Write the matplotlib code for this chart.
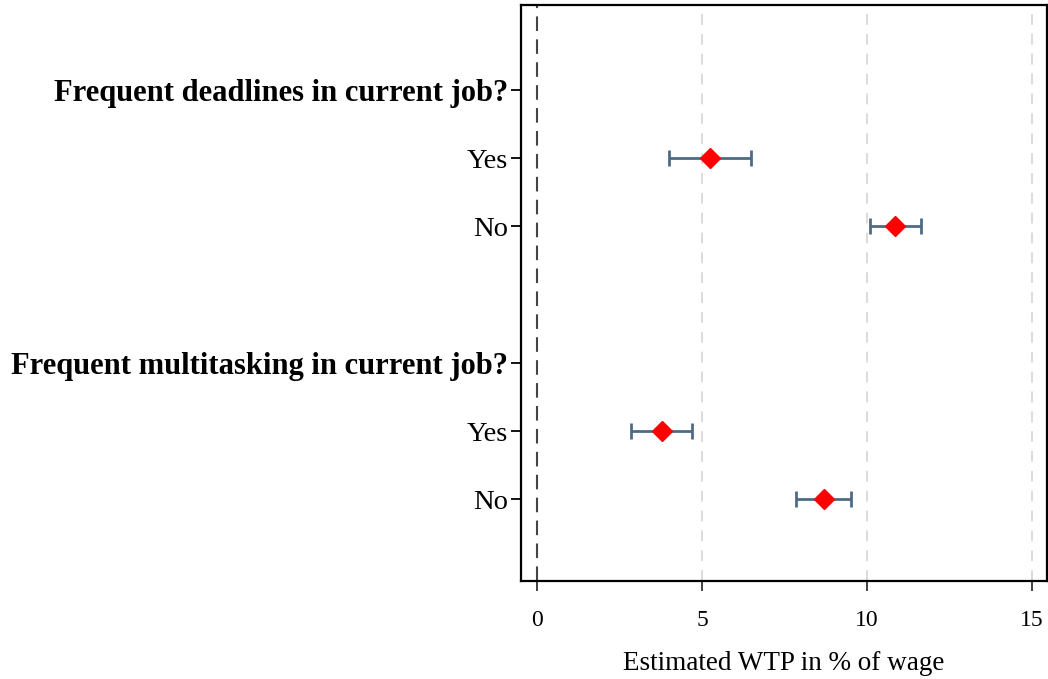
import matplotlib.pyplot as plt

# data
row_labels = ["Frequent deadlines in current job?", "Yes", "No", "",
              "Frequent multitasking in current job?", "Yes", "No"]
is_header = [True, False, False, False, True, False, False]
est_rows = [1, 2, 5, 6]
est = [5.25, 10.85, 3.8, 8.7]
ci_low = [4.0, 10.1, 2.85, 7.85]
ci_high = [6.5, 11.65, 4.7, 9.5]
xticks = [0, 5, 10, 15]

plt.rcParams['font.family'] = ['Liberation Serif', 'DejaVu Serif']

fig = plt.figure(figsize=(10.48, 6.79), dpi=100)
ax = fig.add_axes([0.497, 0.144, 0.502, 0.849])

# grid + zero line
for xv in xticks[1:]:
    ax.axvline(xv, color='#d9d9d9', lw=1.3, ls=(0, (6, 5)), zorder=0)
ax.axvline(0, color='#444444', lw=1.5, ls=(0, (7, 4)), zorder=1)

err_lo = [e - l for e, l in zip(est, ci_low)]
err_hi = [h - e for e, h in zip(est, ci_high)]
ax.errorbar(est, est_rows, xerr=[err_lo, err_hi], fmt='none',
            ecolor='#4d6b85', elinewidth=2, capsize=6, capthick=2, zorder=2)
ax.plot(est, est_rows, 'D', color='red', markersize=10, zorder=3)

ax.set_xlim(-0.485, 15.45)
ax.set_ylim(7.2, -1.25)

ytick_pos = [i for i, lab in enumerate(row_labels) if lab]
ax.set_yticks(ytick_pos)
ax.set_yticklabels([row_labels[i] for i in ytick_pos], fontsize=20.5)
for tl, i in zip(ax.get_yticklabels(), ytick_pos):
    if is_header[i]:
        tl.set_fontweight('bold')
        tl.set_fontsize(22)
ax.tick_params(axis='y', length=7, width=1.3, pad=2)

ax.set_xticks(xticks)
ax.set_xticklabels([str(v) for v in xticks], fontsize=17)
ax.tick_params(axis='x', length=7, width=1.3, color='#333333', pad=14)
ax.set_xlabel("Estimated WTP in % of wage", fontsize=19.5, labelpad=14)

for sp in ax.spines.values():
    sp.set_linewidth(1.6)
    sp.set_color('black')

fig.savefig('out.png', dpi=100)
